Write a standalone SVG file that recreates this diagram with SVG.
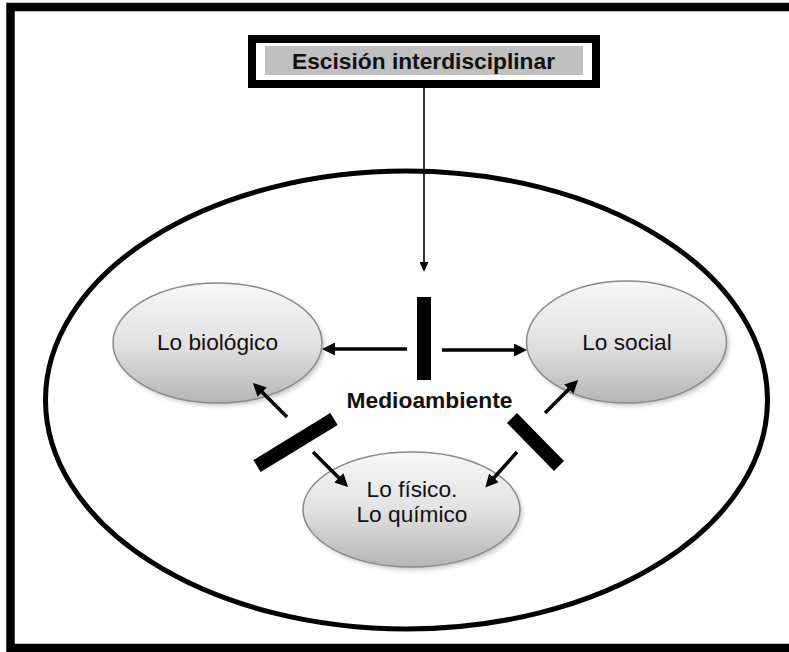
<svg xmlns="http://www.w3.org/2000/svg" width="789" height="652" viewBox="0 0 789 652">
<defs>
<style>
.lbl{font-family:"Liberation Sans",Arial,sans-serif;font-size:22.7px;fill:#111;text-anchor:middle}
.bold{font-weight:bold}
.node{fill:url(#g);stroke:#8a8a8a;stroke-width:1.5}
.shadow{fill:#8a8a8a;opacity:0.45;filter:url(#blur)}
.arr{stroke:#000;stroke-width:3.5;fill:none;marker-end:url(#ah)}
.bar{stroke:#000;stroke-width:14;fill:none}
</style>
<linearGradient id="g" x1="0" y1="0" x2="0" y2="1">
<stop offset="0" stop-color="#f7f7f7"/>
<stop offset="0.5" stop-color="#e2e2e2"/>
<stop offset="1" stop-color="#b5b5b5"/>
</linearGradient>
<filter id="blur" x="-20%" y="-20%" width="140%" height="140%"><feGaussianBlur stdDeviation="2"/></filter>
<marker id="ah" markerUnits="userSpaceOnUse" markerWidth="14" markerHeight="13" refX="3" refY="6.5" orient="auto">
<path d="M0,0 L13,6.5 L0,13 z" fill="#000"/>
</marker>
<marker id="ahs" markerUnits="userSpaceOnUse" markerWidth="11" markerHeight="9" refX="2" refY="4.5" orient="auto">
<path d="M0,0 L10,4.5 L0,9 z" fill="#000"/>
</marker>
</defs>
<rect x="0" y="0" width="789" height="652" fill="#fff"/>
<rect id="frame" x="10.5" y="7" width="790" height="641" fill="none" stroke="#000" stroke-width="8.5"/>
<ellipse id="medioambiente-area" cx="406.5" cy="400" rx="361" ry="229" fill="none" stroke="#000" stroke-width="5"/>

<g id="title">
<rect x="252" y="39" width="344" height="45" fill="#fff" stroke="#000" stroke-width="8"/>
<rect x="265" y="46" width="318" height="29" fill="#c0c0c0"/>
<text class="lbl bold" x="423.5" y="69" textLength="263" lengthAdjust="spacingAndGlyphs">Escisión interdisciplinar</text>
</g>

<g id="node-biologico">
<ellipse class="shadow" cx="220" cy="346" rx="104.5" ry="60"/>
<ellipse class="node" cx="217.5" cy="343" rx="104.5" ry="60"/>
<text class="lbl" x="217.5" y="350">Lo biológico</text>
</g>
<g id="node-social">
<ellipse class="shadow" cx="629" cy="345" rx="100" ry="61"/>
<ellipse class="node" cx="626.5" cy="342" rx="100" ry="61"/>
<text class="lbl" x="627" y="350">Lo social</text>
</g>
<g id="node-fisico">
<ellipse class="shadow" cx="414" cy="512.5" rx="108.5" ry="57.5"/>
<ellipse class="node" cx="411.5" cy="509.5" rx="108.5" ry="57.5"/>
<text class="lbl" x="412" y="497">Lo físico.</text>
<text class="lbl" x="412" y="522">Lo químico</text>
</g>
<g id="label-medioambiente">
<text class="lbl bold" x="429.5" y="408" textLength="166" lengthAdjust="spacingAndGlyphs">Medioambiente</text>
</g>

<g id="connectors">
<line x1="424" y1="88" x2="424" y2="264" stroke="#000" stroke-width="1.6" marker-end="url(#ahs)"/>
<rect x="417" y="297" width="14" height="83" fill="#000"/>
<line class="bar" x1="257" y1="466" x2="334" y2="419"/>
<line class="bar" x1="512" y1="418" x2="559" y2="466"/>
<line class="arr" x1="407" y1="349" x2="332" y2="349"/>
<line class="arr" x1="442" y1="350" x2="517" y2="350"/>
<line class="arr" x1="287" y1="417" x2="260" y2="390"/>
<line class="arr" x1="545" y1="413" x2="571" y2="387"/>
<line class="arr" x1="313" y1="452" x2="341" y2="480"/>
<line class="arr" x1="517" y1="452" x2="492" y2="480"/>
</g>
</svg>
